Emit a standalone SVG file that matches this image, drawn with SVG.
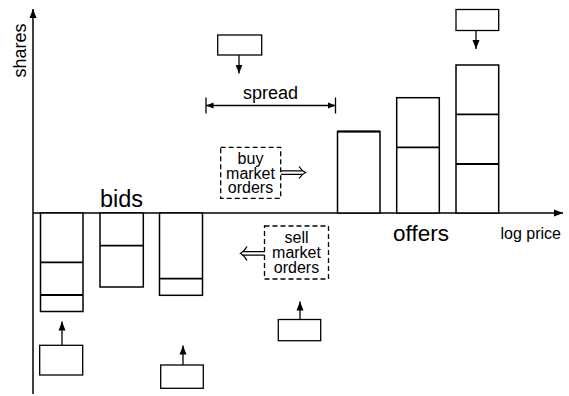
<svg xmlns="http://www.w3.org/2000/svg" width="569" height="396" viewBox="0 0 569 396">
<style>
  text { font-family: "Liberation Sans", Arial, sans-serif; fill: #000; }
  .bar { fill: #fff; stroke: #000; stroke-width: 1.5; }
  .div { stroke: #000; stroke-width: 1.8; fill: none; }
  .box { fill: #fff; stroke: #000; stroke-width: 1.3; }
  .dash { fill: #fff; stroke: #000; stroke-width: 1.3; stroke-dasharray: 5 3; }
  .ln { stroke: #000; stroke-width: 1.3; fill: none; }
  .ax { stroke: #000; stroke-width: 1.5; fill: none; }
</style>
<defs>
  <marker id="ah" markerUnits="userSpaceOnUse" markerWidth="10" markerHeight="10" viewBox="0 0 10 10" refX="9" refY="5" orient="auto">
    <path d="M0,1.5 L9,5 L0,8.5 Z" fill="#000"/>
  </marker>
  <marker id="ahs" markerUnits="userSpaceOnUse" markerWidth="8" markerHeight="8" viewBox="0 0 8 8" refX="7.5" refY="4" orient="auto-start-reverse">
    <path d="M0,1 L7.5,4 L0,7 Z" fill="#000"/>
  </marker>
</defs>
<rect width="569" height="396" fill="#fff"/>

<g id="connectors">
  <line class="ax" x1="33" y1="394" x2="33" y2="9" marker-end="url(#ah)"/>
  <line class="ax" x1="33" y1="213" x2="563" y2="213" marker-end="url(#ah)"/>
  <line class="ln" x1="206" y1="105.5" x2="335.5" y2="105.5" marker-start="url(#ahs)" marker-end="url(#ahs)"/>
  <line class="ln" x1="206" y1="97.5" x2="206" y2="113.5"/>
  <line class="ln" x1="335.5" y1="97.5" x2="335.5" y2="113.5"/>
  <line class="ln" x1="239" y1="55" x2="239" y2="73.5" marker-end="url(#ah)"/>
  <line class="ln" x1="476" y1="30.5" x2="476" y2="49" marker-end="url(#ah)"/>
  <line class="ln" x1="62" y1="345" x2="62" y2="321.5" marker-end="url(#ah)"/>
  <line class="ln" x1="183" y1="365" x2="183" y2="345.5" marker-end="url(#ah)"/>
  <line class="ln" x1="300" y1="319.5" x2="300" y2="301.5" marker-end="url(#ah)"/>
  <path class="ln" d="M281,170.8 H303 M281,174.3 H303 M299,166.5 Q302,171 305.5,172.5 Q302,174 299,178.5"/>
  <path class="ln" d="M264.5,251.7 H243 M264.5,255.2 H243 M247,246.5 Q244,251.5 240.5,253.5 Q244,255.5 247,260.5"/>
</g>

<g id="shares-label"><text x="26" y="50.5" font-size="18" text-anchor="middle" transform="rotate(-90 26 50.5)">shares</text></g>
<g id="logprice-label"><text x="500.5" y="238.5" font-size="16">log price</text></g>
<g id="bids-label"><text x="121.5" y="206.5" font-size="23.5" text-anchor="middle">bids</text></g>
<g id="offers-label"><text x="421" y="240.5" font-size="22.5" text-anchor="middle">offers</text></g>
<g id="spread-label"><text x="270.5" y="98.5" font-size="18" text-anchor="middle">spread</text></g>

<g id="bid1">
  <rect class="bar" x="40.5" y="213" width="42.5" height="98.5"/>
  <line class="div" x1="40.5" y1="262.3" x2="83" y2="262.3"/>
  <line class="div" x1="40.5" y1="295" x2="83" y2="295"/>
</g>
<g id="bid2">
  <rect class="bar" x="100" y="213" width="43.3" height="74"/>
  <line class="div" x1="100" y1="245.7" x2="143.3" y2="245.7"/>
</g>
<g id="bid3">
  <rect class="bar" x="159.5" y="213" width="43" height="82.3"/>
  <line class="div" x1="159.5" y1="278.7" x2="202.5" y2="278.7"/>
</g>

<g id="offer1">
  <rect class="bar" x="337.5" y="131.5" width="42.5" height="81.5"/>
  <line class="div" x1="337.5" y1="131.5" x2="380" y2="131.5"/>
</g>
<g id="offer2">
  <rect class="bar" x="396.7" y="97.7" width="42.6" height="115.3"/>
  <line class="div" x1="396.7" y1="147.3" x2="439.3" y2="147.3"/>
</g>
<g id="offer3">
  <rect class="bar" x="456" y="65" width="42.7" height="148"/>
  <line class="div" x1="456" y1="114.3" x2="498.7" y2="114.3"/>
  <line class="div" x1="456" y1="164" x2="498.7" y2="164"/>
</g>

<g id="box-top-spread"><rect class="box" x="217.7" y="35" width="44" height="20"/></g>
<g id="box-top-offer"><rect class="box" x="456" y="9.5" width="42.7" height="21"/></g>
<g id="box-bid1"><rect class="box" x="39.7" y="345.3" width="43" height="29.7"/></g>
<g id="box-bid3"><rect class="box" x="160.7" y="365" width="42.6" height="23.3"/></g>
<g id="box-sell"><rect class="box" x="278.3" y="319.5" width="42.4" height="21.2"/></g>

<g id="buy-market-orders">
  <rect class="dash" x="220.7" y="147.3" width="60" height="51"/>
  <text x="250.5" y="164" font-size="16" text-anchor="middle">buy</text>
  <text x="250.5" y="178.7" font-size="16" text-anchor="middle">market</text>
  <text x="250.5" y="193.4" font-size="16" text-anchor="middle">orders</text>
</g>
<g id="sell-market-orders">
  <rect class="dash" x="264.5" y="226" width="64" height="53"/>
  <text x="296.5" y="243.3" font-size="16" text-anchor="middle">sell</text>
  <text x="296.5" y="258" font-size="16" text-anchor="middle">market</text>
  <text x="296.5" y="272.7" font-size="16" text-anchor="middle">orders</text>
</g>
</svg>
